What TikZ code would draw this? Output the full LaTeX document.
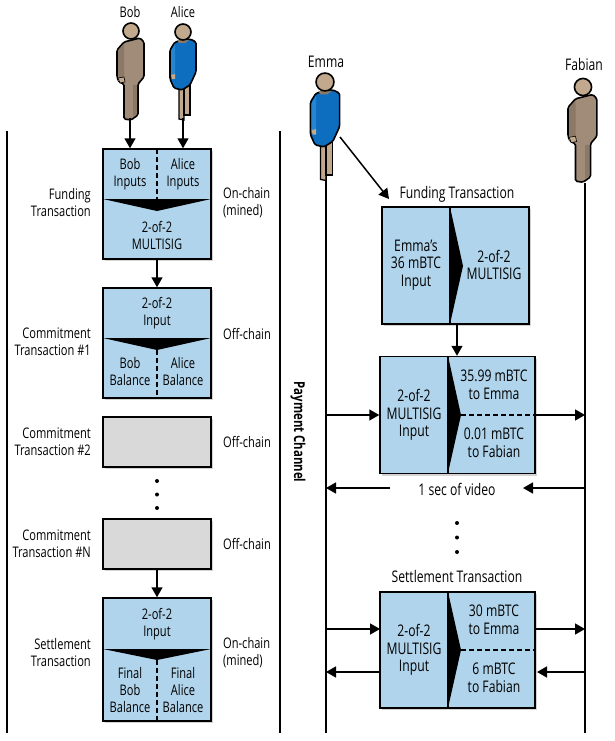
\documentclass[tikz,border=0pt]{standalone}
\usepackage{fontspec}
\usepackage{tikz}
\setmainfont{Open Sans}[FakeStretch=0.76]
\usetikzlibrary{arrows.meta}
\usetikzlibrary{shadows}
\definecolor{mblue}{rgb}{0.69, 0.83, 0.92}
\definecolor{mgrey}{rgb}{0.85, 0.85, 0.85}
\definecolor{mbrown}{rgb}{0.63, 0.55, 0.48}
\definecolor{mbrownd}{rgb}{0.55, 0.47, 0.40}
\definecolor{mskin}{rgb}{0.76, 0.66, 0.55}
\definecolor{mdress}{rgb}{0.05, 0.43, 0.75}
\definecolor{mdressl}{rgb}{0.15, 0.52, 0.82}

\tikzset{
  txbox/.style={draw=black, line width=1.5pt, inner sep=0pt,
    drop shadow={shadow xshift=2pt, shadow yshift=-2pt, opacity=0.35}},
  bluebox/.style={txbox, fill=mblue},
  greybox/.style={txbox, fill=mgrey},
  lbl/.style={inner sep=0pt, align=center, font=\fontsize{16}{17.5}\selectfont},
  lblsm/.style={inner sep=0pt, align=center, font=\fontsize{14.6}{17}\selectfont},
  lblr/.style={lblsm, align=right, anchor=east},
  lbll/.style={lblsm, align=left, anchor=west},
  flow/.style={-{Triangle[length=10pt, width=11pt]}, line width=1.5pt},
  lifeline/.style={line width=1.3pt},
  sep/.style={line width=1.5pt, dash pattern=on 5pt off 3pt},
  pics/manfig/.style={code={
    \draw [line width=1.6pt, fill=mbrown, rounded corners=1.5pt]
      (-7,11) -- (9,7) -- (13,11) -- (13,46) -- (7,53) -- (7,84) -- (0,89)
      -- (-7,88) -- (-7,53) -- (-12,51) -- (-14,46) -- (-14,19) -- cycle;
    \fill [mbrownd] (-13,20) -- (-7,13) -- (-7,50) -- (-13,50) -- cycle;
    \fill [mbrownd] (2,54) -- (6,54) -- (6,83) -- (2,85) -- cycle;
    \draw [line width=0.6pt, fill=mskin] (-13,47) -- (-7,46) -- (-6,51) -- (-11,52) -- cycle;
    \draw [line width=1.6pt, fill=mskin] (0,0) circle (8);
  }},
  pics/womanfig/.style={code={
    \draw [line width=1.3pt, fill=mskin] (-4,52) -- (-4,87) -- (1,88) -- (1,52) -- cycle;
    \draw [line width=1.3pt, fill=mskin] (1,52) -- (1,83) -- (7,83) -- (7,52) -- cycle;
    \draw [line width=1.6pt, fill=mdress, rounded corners=1.5pt]
      (-8,10) -- (7,7) -- (13,10) -- (13,40) -- (7,53) -- (-1,58) -- (-9,56)
      -- (-13,47) -- (-13,18) -- cycle;
    \fill [mdressl] (-12,19) -- (-8,12) -- (-8,42) -- (-12,43) -- cycle;
    \fill [mbrownd] (-6,8) -- (6,8) -- (2,11) -- (-4,11) -- cycle;
    \fill [mskin] (-12,43) -- (-8,42) -- (-8,47) -- (-11,47) -- cycle;
    \draw [line width=1.6pt, fill=mskin] (0,0) circle (8);
  }}
}

\begin{document}
\begin{tikzpicture}[x=1pt, y=-1pt]
    \useasboundingbox (0,0) rectangle (614,741);

    % side rules
    \coordinate (ruleAtop) at (7,131);
    \coordinate (ruleAend) at (7,733);
    \coordinate (ruleBtop) at (280,131);
    \coordinate (ruleBend) at (280,733);
    \draw [lifeline] (ruleAtop) -- (ruleAend);
    \draw [lifeline] (ruleBtop) -- (ruleBend);

    % left column
    \node [lblsm] (bobname) at (130,12) {Bob};
    \node [lblsm] (alicename) at (183,12) {Alice};
    \pic at (131,31) {manfig};
    \pic at (183,32) {womanfig};
    \coordinate (bobfoot) at (130,118);
    \coordinate (alicefoot) at (183,118);

    \node [bluebox, minimum width=108, minimum height=110] (fundA) at (157,204) {};
    \fill (103,199) -- (211,199) -- (157,211) -- cycle;
    \draw [sep] (157,149) -- (157,199);
    \node [lblsm] (fundAb) at (130,174) {Bob\\Inputs};
    \node [lblsm] (fundAa) at (183,174) {Alice\\Inputs};
    \node [lblsm] (fundAm) at (157,235) {2-of-2\\MULTISIG};
    \node [lblr] (fundAl) at (91,203) {Funding\\Transaction};
    \node [lbll] (fundAr) at (223,203) {On-chain\\(mined)};

    \node [bluebox, minimum width=108, minimum height=110] (commA) at (157,343) {};
    \fill (103,338) -- (211,338) -- (157,350) -- cycle;
    \draw [sep] (157,350) -- (157,398);
    \node [lblsm] (commAi) at (157,313) {2-of-2\\Input};
    \node [lblsm] (commAb) at (130,372) {Bob\\Balance};
    \node [lblsm] (commAa) at (183,372) {Alice\\Balance};
    \node [lblr] (commAl) at (91,342) {Commitment\\Transaction \#1};
    \node [lbll] (commAr) at (223,334) {Off-chain};

    \node [greybox, minimum width=108, minimum height=50] (commB) at (157,442) {};
    \node [lblr] (commBl) at (91,442) {Commitment\\Transaction \#2};
    \node [lbll] (commBr) at (223,442) {Off-chain};

    \fill (157,481) circle (2);
    \fill (157,494.5) circle (2);
    \fill (157,508) circle (2);

    \node [greybox, minimum width=108, minimum height=50] (commN) at (157,544) {};
    \node [lblr] (commNl) at (91,544) {Commitment\\Transaction \#N};
    \node [lbll] (commNr) at (223,544) {Off-chain};

    \node [bluebox, minimum width=108, minimum height=123] (settA) at (157,659.5) {};
    \fill (103,649) -- (211,649) -- (157,660) -- cycle;
    \draw [sep] (157,660) -- (157,721);
    \node [lblsm] (settAi) at (157,624) {2-of-2\\Input};
    \node [lblsm] (settAb) at (130,690) {Final\\Bob\\Balance};
    \node [lblsm] (settAa) at (183,690) {Final\\Alice\\Balance};
    \node [lblr] (settAl) at (91,653) {Settlement\\Transaction};
    \node [lbll] (settAr) at (223,653) {On-chain\\(mined)};

    \draw [flow] (bobfoot) -- (bobfoot |- fundA.north);
    \draw [flow] (alicefoot) -- (alicefoot |- fundA.north);
    \draw [flow] (fundA) -- (commA);
    \draw [flow] (commN) -- (settA);

    \node [lbl, font=\fontsize{15}{17}\selectfont\bfseries, rotate=-90] (paychan) at (298,432) {Payment Channel};

    % right column
    \node [lbl] (emmaname) at (326,62) {Emma};
    \node [lbl] (fabianname) at (584,65) {Fabian};
    \coordinate (emmafoot) at (326,178);
    \coordinate (emmaend) at (326,733);
    \coordinate (fabianfoot) at (585,183);
    \coordinate (fabianend) at (585,733);
    \draw [lifeline] (emmafoot) -- (emmaend);
    \draw [lifeline] (fabianfoot) -- (fabianend);
    \pic [scale=1.12] at (325,82) {womanfig};
    \pic [scale=1.07] at (583,87) {manfig};
    \coordinate (emmahand) at (340,137);
    \coordinate (fundBtip) at (389,199);

    \node [lbl] (fundBt) at (457,194) {Funding Transaction};
    \node [bluebox, minimum width=147, minimum height=117] (fundB) at (455.5,265.5) {};
    \draw [line width=1.5pt] (450,207) -- (450,324);
    \fill (450,207) -- (463,266) -- (450,324) -- cycle;
    \node [lbl] (fundBi) at (416,265) {Emma's\\36 mBTC\\Input};
    \node [lbl] (fundBm) at (494,265) {2-of-2\\MULTISIG};

    \node [bluebox, minimum width=155, minimum height=117] (payB) at (457.5,415) {};
    \draw [line width=1.5pt] (448,356) -- (448,473);
    \fill (448,356) -- (461,415) -- (448,473) -- cycle;
    \draw [sep] (461,415) -- (535,415);
    \node [lbl] (payBi) at (414,415) {2-of-2\\MULTISIG\\Input};
    \node [lbl] (payBe) at (494,385) {35.99 mBTC\\to Emma};
    \node [lbl] (payBf) at (494,443) {0.01 mBTC\\to Fabian};

    \node [lbl] (videolbl) at (457,489) {1 sec of video};
    \coordinate (videoL) at (390,488);
    \coordinate (videoR) at (523,488);

    \fill (457,523) circle (2);
    \fill (457,537.5) circle (2);
    \fill (457,552) circle (2);

    \node [lbl] (settBt) at (457,576) {Settlement Transaction};
    \node [bluebox, minimum width=155, minimum height=116] (settB) at (457.5,650) {};
    \draw [line width=1.5pt] (448,592) -- (448,708);
    \fill (448,592) -- (461,650) -- (448,708) -- cycle;
    \draw [sep] (461,650) -- (535,650);
    \node [lbl] (settBi) at (414,650) {2-of-2\\MULTISIG\\Input};
    \node [lbl] (settBe) at (494,620) {30 mBTC\\to Emma};
    \node [lbl] (settBf) at (494,678) {6 mBTC\\to Fabian};

    \coordinate (settBinW) at (380,629);
    \coordinate (settBinE) at (535,629);
    \coordinate (settBoutW) at (380,672);
    \coordinate (settBoutE) at (537,672);

    \draw [flow] (emmahand) -- (fundBtip);
    \draw [flow] (fundB.south -| 457,0) -- (payB.north -| 457,0);
    \draw [flow] (emmafoot |- payB.west) -- (payB.west);
    \draw [flow] (payB.east) -- (fabianfoot |- payB.east);
    \draw [flow] (videoL) -- (emmafoot |- videoL);
    \draw [flow] (fabianfoot |- videoR) -- (videoR);
    \draw [flow] (emmafoot |- settBinW) -- (settBinW);
    \draw [flow] (settBinE) -- (fabianfoot |- settBinE);
    \draw [flow] (settBoutW) -- (emmafoot |- settBoutW);
    \draw [flow] (fabianfoot |- settBoutE) -- (settBoutE);
\end{tikzpicture}
\end{document}
